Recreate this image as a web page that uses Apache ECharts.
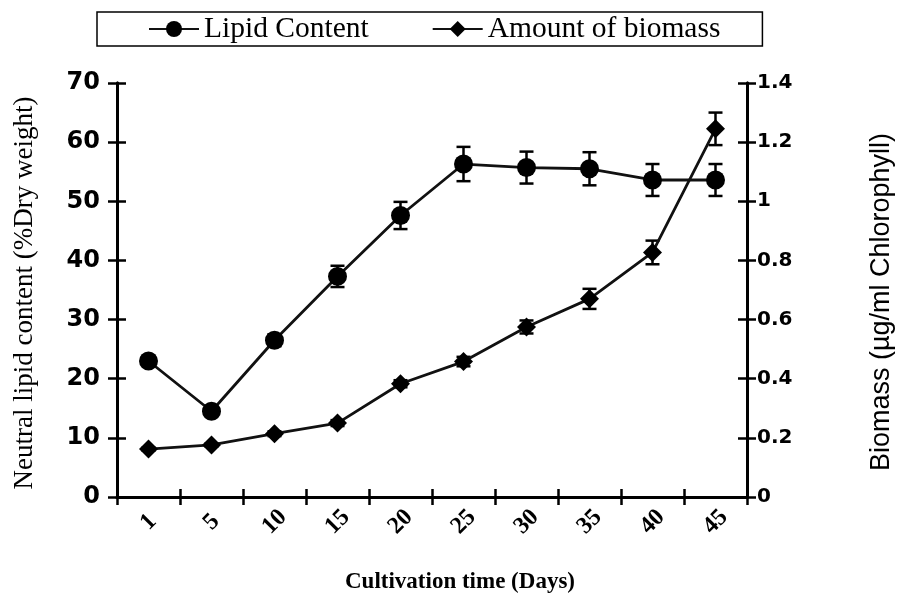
<!DOCTYPE html>
<html>
<head>
<meta charset="utf-8">
<script src="https://cdn.jsdelivr.net/npm/echarts@6/dist/echarts.min.js"></script>
<style>
html,body{margin:0;padding:0;background:#fff;}
#chart{width:897px;height:607px;}
</style>
</head>
<body>
<div id="chart"></div>
<script>
// ---- data ----
const days = ['1', '5', '10', '15', '20', '25', '30', '35', '40', '45'];
const lipidContent = [23.0, 14.5, 26.5, 37.3, 47.6, 56.3, 55.7, 55.5, 53.6, 53.6];
const lipidError = [0.5, 0.5, 1.0, 1.8, 2.3, 2.9, 2.7, 2.8, 2.7, 2.7];
const biomass = [0.162, 0.176, 0.214, 0.25, 0.383, 0.458, 0.575, 0.67, 0.827, 1.245];
const biomassError = [0.005, 0.005, 0.008, 0.01, 0.012, 0.016, 0.022, 0.034, 0.04, 0.055];

const chart = echarts.init(document.getElementById('chart'), null, {renderer: 'canvas'});

const INK = '#000';

function errRender(params, api) {
  const x = api.value(0), y = api.value(1), e = api.value(2);
  const top = api.coord([x, y + e]);
  const bot = api.coord([x, y - e]);
  const cw = 7;
  const st = {stroke: INK, lineWidth: 2.5};
  return {
    type: 'group',
    children: [
      {type: 'line', shape: {x1: top[0], y1: top[1], x2: bot[0], y2: bot[1]}, style: st},
      {type: 'line', shape: {x1: top[0] - cw, y1: top[1], x2: top[0] + cw, y2: top[1]}, style: st},
      {type: 'line', shape: {x1: bot[0] - cw, y1: bot[1], x2: bot[0] + cw, y2: bot[1]}, style: st}
    ]
  };
}

const axisLine = {show: true, onZero: false, lineStyle: {color: INK, width: 3}};

const option = {
  backgroundColor: '#fff',
  animation: false,
  legend: {
    data: ['Lipid Content', 'Amount of biomass'],
    left: 97,
    top: 12,
    borderColor: INK,
    borderWidth: 1.5,
    borderRadius: 0,
    padding: [2, 42, 2, 51],
    itemGap: 63,
    itemWidth: 50,
    itemHeight: 20,
    textStyle: {fontFamily: 'Liberation Serif', fontSize: 29.5, color: INK}
  },
  grid: {left: 117, right: 150, top: 83, bottom: 110, containLabel: false, outerBoundsMode: 'none'},
  xAxis: [
    {
      type: 'category',
      data: days,
      boundaryGap: true,
      position: 'bottom',
      name: 'Cultivation time (Days)',
      nameLocation: 'middle',
      nameGap: 74,
      nameTextStyle: {fontFamily: 'Liberation Serif', fontWeight: 'bold', fontSize: 23, color: INK, padding: [0, 0, 0, 56]},
      axisLine: axisLine,
      axisTick: {show: true, inside: false, length: 8, alignWithLabel: false, lineStyle: {color: INK, width: 2.5}},
      axisLabel: {
        rotate: 45, align: 'center', verticalAlign: 'middle', margin: 25,
        fontFamily: 'Liberation Serif', fontWeight: 'bold', fontSize: 24, color: INK
      },
      splitLine: {show: false}
    },
    {
      type: 'category',
      data: days,
      boundaryGap: true,
      position: 'bottom',
      axisLine: axisLine,
      axisTick: {show: true, inside: true, length: 8, lineStyle: {color: INK, width: 2.5}},
      axisLabel: {show: false},
      splitLine: {show: false}
    }
  ],
  yAxis: [
    {
      type: 'value', position: 'left', min: 0, max: 70, interval: 10,
      name: 'Neutral lipid content (%Dry weight)',
      nameLocation: 'middle', nameGap: 79, nameRotate: 90,
      nameTextStyle: {fontFamily: 'Liberation Serif', fontSize: 27, color: INK, padding: [0, 6, 0, 0]},
      axisLine: axisLine,
      axisTick: {show: true, inside: false, length: 9, lineStyle: {color: INK, width: 2.5}},
      axisLabel: {margin: 17, fontFamily: 'DejaVu Sans', fontWeight: 'bold', fontSize: 24, color: INK},
      splitLine: {show: false}
    },
    {
      type: 'value', position: 'right', min: 0, max: 1.4, interval: 0.2,
      name: 'Biomass (\u00b5g/ml Chlorophyll)',
      nameLocation: 'middle', nameGap: 121, nameRotate: 90,
      nameTextStyle: {fontFamily: 'Liberation Sans', fontSize: 27, color: INK, padding: [0, 24, 0, 0]},
      axisLine: axisLine,
      axisTick: {show: true, inside: false, length: 9, lineStyle: {color: INK, width: 2.5}},
      axisLabel: {margin: 10, fontFamily: 'DejaVu Sans', fontWeight: 'bold', fontSize: 20, color: INK},
      splitLine: {show: false}
    },
    {
      type: 'value', position: 'left', min: 0, max: 70, interval: 10,
      axisLine: axisLine,
      axisTick: {show: true, inside: true, length: 9, lineStyle: {color: INK, width: 2.5}},
      axisLabel: {show: false},
      splitLine: {show: false}
    },
    {
      type: 'value', position: 'right', min: 0, max: 1.4, interval: 0.2,
      axisLine: axisLine,
      axisTick: {show: true, inside: true, length: 9, lineStyle: {color: INK, width: 2.5}},
      axisLabel: {show: false},
      splitLine: {show: false}
    }
  ],
  series: [
    {
      name: 'Lipid Content error',
      type: 'custom',
      xAxisIndex: 0, yAxisIndex: 0,
      renderItem: errRender,
      encode: {x: 0, y: 1},
      data: days.map((d, i) => [i, lipidContent[i], lipidError[i]]),
      z: 1, silent: true
    },
    {
      name: 'Amount of biomass error',
      type: 'custom',
      xAxisIndex: 0, yAxisIndex: 1,
      renderItem: errRender,
      encode: {x: 0, y: 1},
      data: days.map((d, i) => [i, biomass[i], biomassError[i]]),
      z: 1, silent: true
    },
    {
      name: 'Lipid Content',
      type: 'line',
      xAxisIndex: 0, yAxisIndex: 0,
      data: lipidContent,
      symbol: 'circle',
      symbolSize: 19,
      itemStyle: {color: INK},
      lineStyle: {color: '#111', width: 2.8},
      z: 3
    },
    {
      name: 'Amount of biomass',
      type: 'line',
      xAxisIndex: 0, yAxisIndex: 1,
      data: biomass,
      symbol: 'diamond',
      symbolSize: [19, 19],
      itemStyle: {color: INK},
      lineStyle: {color: '#111', width: 2.8},
      z: 3
    }
  ]
};
chart.setOption(option);
</script>
</body>
</html>
